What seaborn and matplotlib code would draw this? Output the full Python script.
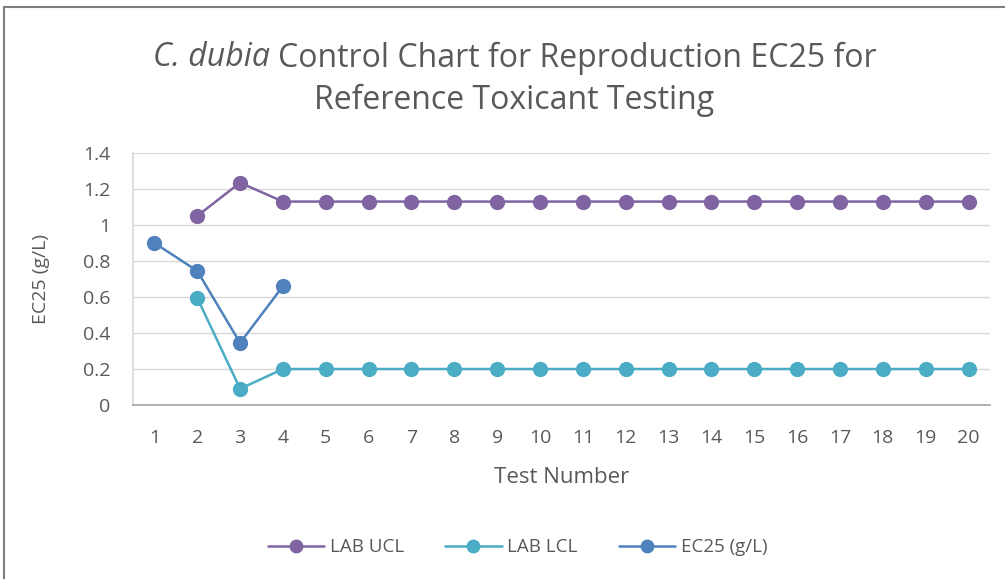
import matplotlib
matplotlib.use("Agg")
import matplotlib.pyplot as plt
import numpy as np
import pandas as pd
import seaborn as sns
from matplotlib.lines import Line2D
from matplotlib.patches import Rectangle

# values
test_numbers = list(range(1, 21))
lab_ucl = [np.nan, 1.05, 1.235] + [1.13] * 17
lab_lcl = [np.nan, 0.595, 0.09] + [0.2] * 17
ec25 = [0.9, 0.745, 0.345, 0.66] + [np.nan] * 16
series_names = ["LAB UCL", "LAB LCL", "EC25 (g/L)"]
series_colors = ["#8064A2", "#4BACC6", "#4F81BD"]

df = pd.DataFrame({"LAB UCL": lab_ucl, "LAB LCL": lab_lcl, "EC25 (g/L)": ec25},
                  index=test_numbers)
long_df = (df.rename_axis("test").reset_index()
           .melt(id_vars="test", var_name="series", value_name="value")
           .dropna())

sns.set_theme(style="white")
plt.rcParams["font.family"] = ["Open Sans", "DejaVu Sans"]

text_color = "#595959"
grid_color = "#D9D9D9"

fig = plt.figure(figsize=(10.05, 5.79), dpi=100)
ax = fig.add_axes([0.1323, 0.3005, 0.8527, 0.4353])

palette = dict(zip(series_names, series_colors))
sns.lineplot(data=long_df, x="test", y="value", hue="series", hue_order=series_names,
             palette=palette, marker="o", markersize=11, markeredgewidth=0,
             linewidth=1.8, legend=False, ax=ax)

ax.set_xlim(0.5, 20.5)
ax.set_ylim(0, 1.4)
ax.set_xticks(test_numbers)
ax.set_xticklabels([str(t) for t in test_numbers])
ax.set_yticks(np.arange(0, 1.41, 0.2))
ax.set_yticklabels(["0", "0.2", "0.4", "0.6", "0.8", "1", "1.2", "1.4"])
ax.yaxis.grid(True, color=grid_color, linewidth=1)
ax.set_axisbelow(True)
for side in ["top", "right"]:
    ax.spines[side].set_visible(False)
ax.spines["left"].set_color(grid_color)
ax.spines["bottom"].set_color("#A6A6A6")
ax.tick_params(axis="both", length=0, labelsize=14, colors=text_color)
ax.tick_params(axis="y", pad=16)
ax.tick_params(axis="x", pad=17)

ax.set_xlabel("Test Number", fontsize=16, color=text_color, labelpad=15)
ax.set_ylabel("EC25 (g/L)", fontsize=14, color=text_color, labelpad=24)

# title: italic species name followed by regular text, centred as one line
W = fig.get_figwidth() * fig.dpi
renderer = fig.canvas.get_renderer()
title_kw = dict(fontsize=23, color=text_color, va="center", ha="left")
t1 = fig.text(0, 0.900, "C. dubia ", style="italic", **title_kw)
t2 = fig.text(0, 0.900, "Control Chart for Reproduction EC25 for", **title_kw)
w1 = t1.get_window_extent(renderer).width
w2 = t2.get_window_extent(renderer).width
x0 = 0.512 * W - (w1 + w2) / 2
t1.set_x(x0 / W)
t2.set_x((x0 + w1) / W)
fig.text(0.512, 0.827, "Reference Toxicant Testing",
         ha="center", va="center", fontsize=23, color=text_color)

handles = [Line2D([0], [0], color=c, marker="o", markersize=10, markeredgewidth=0,
                  linewidth=1.8) for c in series_colors]
fig.legend(handles, series_names, loc="center", bbox_to_anchor=(0.515, 0.055), ncol=3,
           frameon=False, fontsize=13.5, labelcolor=text_color, handlelength=3,
           handletextpad=0.3, columnspacing=2.2)

# chart frame (cropped on right and bottom like the reference)
fig.patches.append(Rectangle((4 / 1005, -0.1), 1.2, 1 - 7 / 579 + 0.1,
                             transform=fig.transFigure, fill=False,
                             edgecolor="#7F7F7F", linewidth=1.5))

fig.savefig("out.png", dpi=100)
